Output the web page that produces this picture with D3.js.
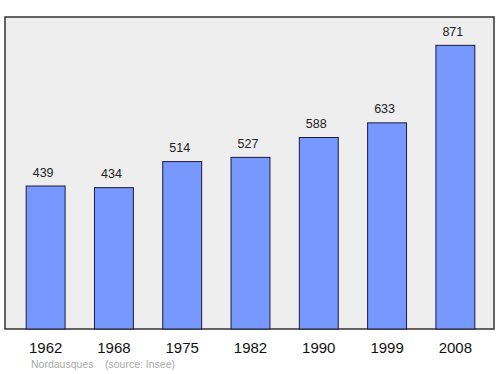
<!DOCTYPE html>
<html>
<head>
<meta charset="utf-8">
<script src="https://cdn.jsdelivr.net/npm/d3@7"></script>
<style>
  body { margin: 0; background: #fff; }
  text { font-family: "Liberation Sans", Arial, sans-serif; }
</style>
</head>
<body>
<div id="chart"></div>
<script>
// data
const years = ["1962", "1968", "1975", "1982", "1990", "1999", "2008"];
const population = [439, 434, 514, 527, 588, 633, 871];

const width = 500, height = 374;
const panel = { left: 5, top: 17, right: 494, bottom: 329 };

const svg = d3.select("#chart")
    .append("svg")
    .attr("width", width)
    .attr("height", height);

// panel background
svg.append("rect")
    .attr("x", panel.left)
    .attr("y", panel.top)
    .attr("width", panel.right - panel.left)
    .attr("height", panel.bottom - panel.top)
    .attr("fill", "#eeeeee")
    .attr("stroke", "#333")
    .attr("stroke-width", 1.5);

// scales
const x = d3.scaleBand()
    .domain(years)
    .range([11.5, 489.5])
    .paddingInner(0.43)
    .paddingOuter(0.215);

const y = d3.scaleLinear()
    .domain([0, 958])
    .range([panel.bottom, panel.top]);

// bars
svg.selectAll(".bar")
    .data(population)
    .enter().append("rect")
    .attr("class", "bar")
    .attr("x", (d, i) => x(years[i]))
    .attr("y", d => y(d))
    .attr("width", x.bandwidth())
    .attr("height", d => panel.bottom - y(d))
    .attr("fill", "#7799ff")
    .attr("stroke", "#1a1a3a")
    .attr("stroke-width", 1);

// value labels (sit a little left of the bar centre in the original)
svg.selectAll(".val")
    .data(population)
    .enter().append("text")
    .attr("class", "val")
    .attr("x", (d, i) => x(years[i]) + x.bandwidth() / 2 - 2.5)
    .attr("y", d => y(d) - 9.5)
    .attr("text-anchor", "middle")
    .style("font-size", "12.5px")
    .attr("fill", "#222")
    .text(d => d);

// x axis labels
svg.selectAll(".year")
    .data(years)
    .enter().append("text")
    .attr("class", "year")
    .attr("x", d => x(d) + x.bandwidth() / 2)
    .attr("y", 353)
    .attr("text-anchor", "middle")
    .style("font-size", "15px")
    .attr("fill", "#111")
    .text(d => d);

// footer
svg.append("text")
    .attr("x", 31)
    .attr("y", 368)
    .style("font-size", "10.5px")
    .attr("fill", "#aaaaaa")
    .text("Nordausques");

svg.append("text")
    .attr("x", 105)
    .attr("y", 368)
    .style("font-size", "10.5px")
    .attr("fill", "#aaaaaa")
    .text("(source: Insee)");
</script>
</body>
</html>
